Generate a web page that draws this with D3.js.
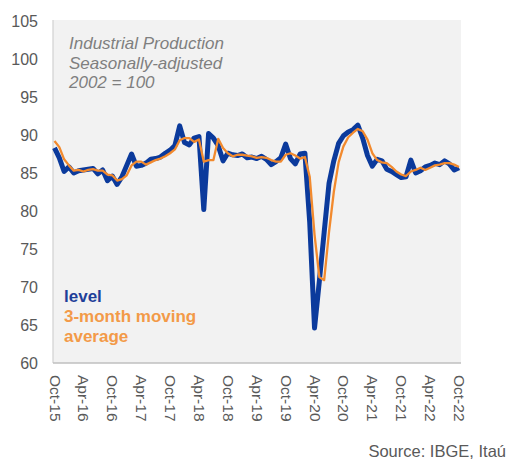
<!DOCTYPE html>
<html>
<head>
<meta charset="utf-8">
<script src="https://cdn.jsdelivr.net/npm/d3@7"></script>
<style>
  body { margin: 0; background: #fff; }
  svg { display: block; font-family: "Liberation Sans", Arial, sans-serif; }
</style>
</head>
<body>
<div id="chart"></div>
<script>
// Industrial production index, seasonally adjusted, 2002 = 100 (monthly, Oct-15 .. Oct-22)
var level = [
  88.3, 87.0, 85.2, 85.8, 85.0, 85.3, 85.4, 85.5, 85.6, 84.9, 85.4, 84.0,
  84.6, 83.5, 84.5, 86.0, 87.5, 85.9, 86.0, 86.3, 86.8, 86.9, 87.1, 87.6,
  88.0, 88.6, 91.2, 89.0, 88.7, 89.6, 89.8, 80.2, 90.2, 89.6, 88.6, 86.6,
  87.6, 87.4, 87.3, 87.5, 87.0, 87.1, 86.9, 87.2, 86.8, 86.1, 86.5, 87.0,
  88.8, 86.9, 86.2, 87.5, 87.6, 78.5, 64.6, 70.8, 77.2, 83.6, 86.6, 88.9,
  89.9, 90.4, 90.7, 91.3, 89.6, 87.3, 85.9, 86.8, 86.6, 85.5, 85.2, 84.8,
  84.4, 84.5, 86.7, 85.0, 85.3, 85.8, 86.0, 86.3, 86.1, 86.6, 86.2, 85.4,
  85.7
];

var movingAvg = [
  89.2, 88.4, 86.8, 86.0, 85.3, 85.4, 85.2, 85.4, 85.5, 85.3, 85.3, 84.8,
  84.7, 84.0, 84.2, 84.7, 86.0, 86.5, 86.5, 86.1, 86.4, 86.7, 86.9, 87.2,
  87.6, 88.1, 89.3, 89.6, 89.6, 89.1, 89.4, 86.5, 86.7, 86.7, 89.5, 88.3,
  87.6, 87.2, 87.4, 87.4, 87.3, 87.2, 87.0, 87.1, 87.0, 86.7, 86.5, 86.5,
  87.4, 87.6, 87.3, 86.9, 87.1, 84.5, 76.9, 71.3, 70.9, 77.2, 82.5, 86.4,
  88.5, 89.7, 90.3, 90.8, 90.5, 89.4, 87.6, 86.7, 86.4, 86.3, 85.8, 85.2,
  84.8, 84.6, 85.2, 85.4, 85.7, 85.4, 85.7, 86.0, 86.1, 86.3, 86.3, 86.1,
  85.8
];

var xTickLabels = ["Oct-15", "Apr-16", "Oct-16", "Apr-17", "Oct-17", "Apr-18", "Oct-18",
  "Apr-19", "Oct-19", "Apr-20", "Oct-20", "Apr-21", "Oct-21", "Apr-22", "Oct-22"];
var yTicks = [60, 65, 70, 75, 80, 85, 90, 95, 100, 105];

var titleLines = ["Industrial Production", "Seasonally-adjusted", "2002 = 100"];

var fmt = d3.timeFormat("%b-%y");
var months = d3.timeMonth.range(new Date(2015, 9, 1), new Date(2022, 10, 1)).map(fmt);

var width = 507, height = 464;
var plot = {left: 53, right: 461, top: 20, bottom: 363};

var svg = d3.select("#chart").append("svg")
  .attr("width", width)
  .attr("height", height);

var x = d3.scalePoint()
  .domain(months)
  .range([54.5, 459]);

var y = d3.scaleLinear()
  .domain([60, 105])
  .range([plot.bottom, plot.top + 1]);

// plot background
svg.append("rect")
  .attr("x", plot.left)
  .attr("y", plot.top)
  .attr("width", plot.right - plot.left)
  .attr("height", plot.bottom - plot.top)
  .attr("fill", "#f2f2f2");

// y axis
var yAxis = svg.append("g")
  .attr("transform", "translate(" + plot.left + ",0)")
  .call(d3.axisLeft(y).tickValues(yTicks).tickSize(0).tickPadding(15));
yAxis.select(".domain").remove();
yAxis.selectAll("text")
  .attr("fill", "#595959")
  .style("font-size", "16px")
  .style("font-family", "'Liberation Sans', Arial, sans-serif");

svg.append("line")
  .attr("x1", plot.left).attr("x2", plot.left)
  .attr("y1", plot.top).attr("y2", plot.bottom)
  .attr("stroke", "#d0d0d0")
  .attr("stroke-width", 1.2);

// x axis
var xAxis = svg.append("g")
  .attr("transform", "translate(0," + plot.bottom + ")")
  .call(d3.axisBottom(x).tickValues(xTickLabels).tickSize(0));
xAxis.select(".domain").remove();
xAxis.selectAll("text")
  .attr("fill", "#595959")
  .style("font-size", "15.5px")
  .style("font-family", "'Liberation Sans', Arial, sans-serif")
  .attr("text-anchor", "start")
  .attr("x", 0)
  .attr("y", 0)
  .attr("dy", "0.35em")
  .attr("transform", "translate(0,12) rotate(90)");

svg.append("line")
  .attr("x1", plot.left).attr("x2", plot.right)
  .attr("y1", plot.bottom).attr("y2", plot.bottom)
  .attr("stroke", "#bfbfbf")
  .attr("stroke-width", 1.5);

// lines
var line = d3.line()
  .x(function(d, i) { return x(months[i]); })
  .y(function(d) { return y(d); });

svg.append("path")
  .datum(level)
  .attr("d", line)
  .attr("fill", "none")
  .attr("stroke", "#0b3a9c")
  .attr("stroke-width", 5)
  .attr("stroke-linejoin", "round");

svg.append("path")
  .datum(movingAvg)
  .attr("d", line)
  .attr("fill", "none")
  .attr("stroke", "#f28a2e")
  .attr("stroke-width", 2.3)
  .attr("stroke-linejoin", "round");

// title
svg.append("g").selectAll("text")
  .data(titleLines)
  .enter().append("text")
    .attr("x", 69)
    .attr("y", function(d, i) { return 49 + i * 19.5; })
    .attr("fill", "#7f7f7f")
    .style("font-size", "17px")
    .style("font-style", "italic")
    .text(function(d) { return d; });

// legend
var legend = [
  {text: "level", color: "#1f3f99"},
  {text: "3-month moving", color: "#f39a48"},
  {text: "average", color: "#f39a48"}
];
svg.append("g").selectAll("text")
  .data(legend)
  .enter().append("text")
    .attr("x", 64)
    .attr("y", function(d, i) { return 302 + i * 20; })
    .attr("fill", function(d) { return d.color; })
    .style("font-size", "17px")
    .style("font-weight", "bold")
    .text(function(d) { return d.text; });

// source
svg.append("text")
  .attr("x", 506)
  .attr("y", 457)
  .attr("text-anchor", "end")
  .attr("fill", "#595959")
  .style("font-size", "16.5px")
  .text("Source: IBGE, Itaú");
</script>
</body>
</html>
